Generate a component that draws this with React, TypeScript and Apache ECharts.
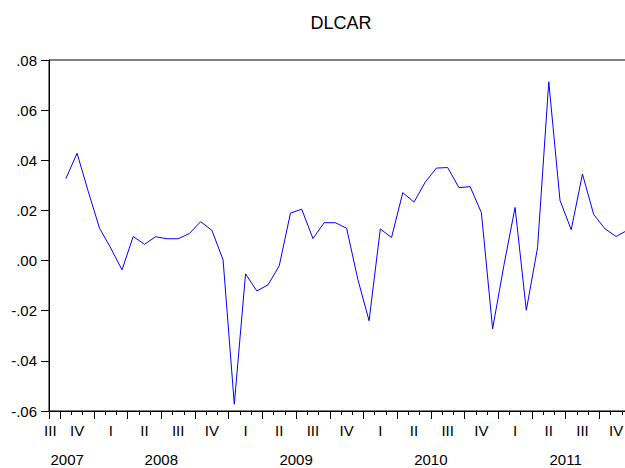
import React, { useEffect, useRef } from "react";
import * as echarts from "echarts";

// ---- data ----
const sampleStart = "2007M09"; // first observation of the sample (NA after differencing)
const sampleEnd = "2011M12";

const months = [
  "2007M10", "2007M11", "2007M12",
  "2008M01", "2008M02", "2008M03", "2008M04", "2008M05", "2008M06",
  "2008M07", "2008M08", "2008M09", "2008M10", "2008M11", "2008M12",
  "2009M01", "2009M02", "2009M03", "2009M04", "2009M05", "2009M06",
  "2009M07", "2009M08", "2009M09", "2009M10", "2009M11", "2009M12",
  "2010M01", "2010M02", "2010M03", "2010M04", "2010M05", "2010M06",
  "2010M07", "2010M08", "2010M09", "2010M10", "2010M11", "2010M12",
  "2011M01", "2011M02", "2011M03", "2011M04", "2011M05", "2011M06",
  "2011M07", "2011M08", "2011M09", "2011M10", "2011M11", "2011M12",
];

const dlcar = [
  0.0327, 0.0428, 0.0275,
  0.0129, 0.005, -0.0037, 0.0096, 0.0065, 0.0095,
  0.0087, 0.0087, 0.0108, 0.0155, 0.0121, 0.0003,
  -0.0573, -0.0053, -0.0121, -0.0097, -0.0021, 0.0189,
  0.0205, 0.0088, 0.0151, 0.0151, 0.0129, -0.0075,
  -0.024, 0.0126, 0.0092, 0.0271, 0.0233, 0.0313,
  0.0369, 0.0371, 0.0291, 0.0295, 0.0191, -0.0272,
  -0.002, 0.0212, -0.0198, 0.0051, 0.0713, 0.024,
  0.0123, 0.0345, 0.0184, 0.0127, 0.0096, 0.0121,
];

const quarterLabels = [
  "III", "IV",
  "I", "II", "III", "IV",
  "I", "II", "III", "IV",
  "I", "II", "III", "IV",
  "I", "II", "III", "IV",
];
const yearLabels = ["2007", "2008", "2009", "2010", "2011"];

const yMin = -0.06;
const yMax = 0.08;
const yStep = 0.02;

// ---- helpers ----
const FONT = "'Liberation Sans', Arial, Helvetica, sans-serif";
const BASE_YEAR = 2007;
function monthIndex(s: string): number {
  const [y, m] = s.split("M").map(Number);
  return (y - BASE_YEAR) * 12 + (m - 1);
}
const xMin = monthIndex(sampleStart);
const xMax = monthIndex(sampleEnd) + 1;

const longTicks: number[] = [];
const shortTicks: number[] = [];
for (let v = xMin; v <= xMax; v++) {
  if (v === xMin || v % 3 === 0) longTicks.push(v);
  else shortTicks.push(v);
}

const CLIP_SHIFT = 0.38;
function periodCenter(start: number, len: number): number {
  const a = Math.max(start, xMin);
  const b = Math.min(start + len, xMax);
  const c = (a + b) / 2;
  return start < xMin ? c - CLIP_SHIFT : c;
}
const firstQuarterStart = Math.floor(xMin / 3) * 3;
const quarterPos = quarterLabels.map((_, k) => periodCenter(firstQuarterStart + 3 * k, 3));
const yearPos = yearLabels.map((y) => periodCenter((Number(y) - BASE_YEAR) * 12, 12));

function lookup(pos: number[], labels: string[], v: number): string {
  for (let i = 0; i < pos.length; i++) if (Math.abs(pos[i] - v) < 1e-3) return labels[i];
  return "";
}

function fmtY(v: number): string {
  const r = Math.round(v * 100) / 100;
  const s = Math.abs(r).toFixed(2).replace(/^0\./, ".");
  return (r < 0 ? "-" : "") + s;
}

// The original frame runs a few pixels past the right edge of the picture.
const CHART_W = 640;
const CHART_H = 468;
const PLOT_LEFT = 49;
const PLOT_RIGHT_EDGE = 633;

export default function App() {
  const ref = useRef<HTMLDivElement>(null);
  useEffect(() => {
    if (!ref.current) return;
    const chart = echarts.init(ref.current, undefined, { renderer: "svg" });
    const seriesData = months.map((m, i) => [monthIndex(m) + 0.5, dlcar[i]]);
    const labelStyle = { fontFamily: FONT, fontSize: 15, color: "#000" };
    chart.setOption({
      animation: false,
      backgroundColor: "#ffffff",
      graphic: [
        {
          type: "text",
          x: (PLOT_LEFT + PLOT_RIGHT_EDGE) / 2,
          y: 23,
          style: {
            text: "DLCAR",
            align: "center",
            verticalAlign: "middle",
            fontFamily: FONT,
            fontSize: 18,
            fill: "#000",
          },
        },
      ],
      grid: {
        left: PLOT_LEFT,
        right: CHART_W - PLOT_RIGHT_EDGE,
        top: 60,
        bottom: 57,
        show: true,
        borderColor: "#000",
        borderWidth: 1,
        backgroundColor: "transparent",
      },
      xAxis: [
        {
          type: "value",
          position: "bottom",
          min: xMin,
          max: xMax,
          axisLine: { show: true, onZero: false, lineStyle: { color: "#000", width: 1 } },
          axisTick: { show: true, length: 8, customValues: longTicks, lineStyle: { color: "#000" } },
          axisLabel: {
            show: true,
            customValues: quarterPos,
            margin: 12,
            ...labelStyle,
            formatter: (v: number) => lookup(quarterPos, quarterLabels, v),
          },
          splitLine: { show: false },
        },
        {
          type: "value",
          position: "bottom",
          min: xMin,
          max: xMax,
          axisLine: { show: false, onZero: false },
          axisTick: { show: true, length: 4, customValues: shortTicks, lineStyle: { color: "#000" } },
          axisLabel: {
            show: true,
            customValues: yearPos,
            margin: 41,
            ...labelStyle,
            formatter: (v: number) => lookup(yearPos, yearLabels, v),
          },
          splitLine: { show: false },
        },
      ],
      yAxis: {
        type: "value",
        min: yMin,
        max: yMax,
        interval: yStep,
        axisLine: { show: true, onZero: false, lineStyle: { color: "#000", width: 1 } },
        axisTick: { show: true, length: 8, lineStyle: { color: "#000" } },
        axisLabel: { margin: 12, ...labelStyle, formatter: (v: number) => fmtY(v) },
        splitLine: { show: false },
      },
      series: [
        {
          name: "DLCAR",
          type: "line",
          xAxisIndex: 0,
          yAxisIndex: 0,
          data: seriesData,
          showSymbol: false,
          symbol: "none",
          lineStyle: { color: "#0000ff", width: 1 },
          itemStyle: { color: "#0000ff" },
        },
      ],
    });
    return () => chart.dispose();
  }, []);
  return (
    <div
      style={{
        position: "fixed",
        left: 0,
        top: 0,
        width: 625,
        height: CHART_H,
        overflow: "hidden",
        background: "#fff",
      }}
    >
      <div ref={ref} style={{ width: CHART_W, height: CHART_H }} />
    </div>
  );
}
